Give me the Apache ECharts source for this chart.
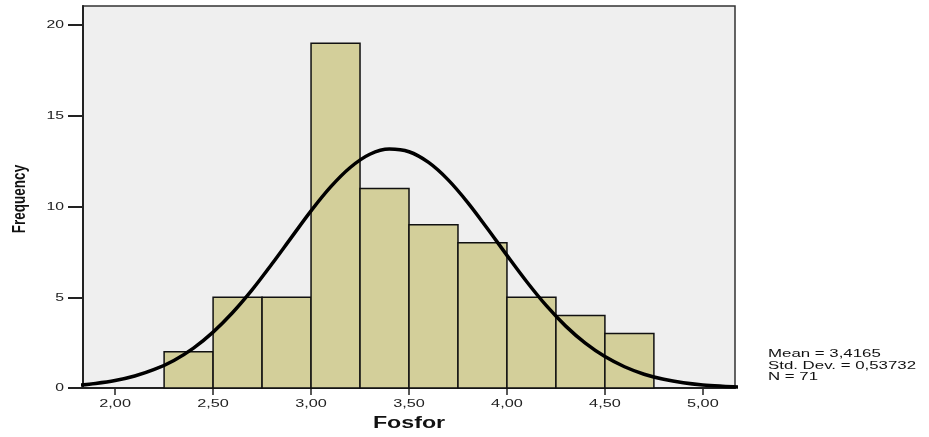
<!DOCTYPE html>
<html><head><meta charset="utf-8">
<script src="https://cdn.jsdelivr.net/npm/echarts@6/dist/echarts.min.js"></script>
<style>html,body{margin:0;padding:0;background:#fff}#c{width:929px;height:437px}</style>
</head><body><div id="c"></div>
<script>
var binStarts = [2.25, 2.50, 2.75, 3.00, 3.25, 3.50, 3.75, 4.00, 4.25, 4.50];
var binWidth = 0.25;
var counts = [2, 5, 5, 19, 11, 9, 8, 5, 4, 3];
var curveX = [1.8,1.9,2.0,2.1,2.2,2.3,2.4,2.5,2.6,2.7,2.8,2.9,3.0,3.1,3.2,3.3,3.4,3.5,3.6,3.7,3.8,3.9,4.0,4.1,4.2,4.3,4.4,4.5,4.6,4.7,4.8,4.9,5.0,5.1,5.2];
var curveY = [0.14,0.25,0.41,0.66,1.02,1.52,2.20,3.08,4.16,5.42,6.83,8.30,9.76,11.08,12.15,12.88,13.17,13.02,12.43,11.47,10.22,8.79,7.31,5.87,4.55,3.41,2.47,1.73,1.17,0.76,0.48,0.29,0.17,0.10,0.05];
var xTicks = [2.0, 2.5, 3.0, 3.5, 4.0, 4.5, 5.0];
var xTickLabels = ['2,00', '2,50', '3,00', '3,50', '4,00', '4,50', '5,00'];
var yTicks = [0, 5, 10, 15, 20];
var yTickLabels = ['0', '5', '10', '15', '20'];
var xTitle = 'Fosfor';
var yTitle = 'Frequency';
var statsLines = ['Mean = 3,4165', 'Std. Dev. = 0,53732', 'N = 71'];

var chart = echarts.init(document.getElementById('c'));
var font = 'Liberation Sans, Arial, sans-serif';
var barData = binStarts.map(function(s, i){ return [s, s + binWidth, counts[i]]; });
var lineData = curveX.map(function(x, i){ return [x, curveY[i]]; });

chart.setOption({
  animation: false,
  grid: {left: 83, top: 6, width: 652, height: 382, outerBoundsMode: 'none', containLabel: false,
    show: true, backgroundColor: '#efefef', borderColor: '#333', borderWidth: 1.5},
  xAxis: {
    type: 'value', min: 1.836, max: 5.164,
    axisLine: {show: true, onZero: false, lineStyle: {color: '#222', width: 2}},
    axisTick: {show: true, length: 7, lineStyle: {color: '#222', width: 1.5}, customValues: xTicks},
    axisLabel: {show: false},
    splitLine: {show: false}
  },
  yAxis: {
    type: 'value', min: 0, max: 21.05,
    axisLine: {show: true, lineStyle: {color: '#222', width: 2}},
    axisTick: {show: true, length: 15, lineStyle: {color: '#222', width: 2}, customValues: yTicks},
    axisLabel: {show: false},
    splitLine: {show: false}
  },
  series: [
    {
      type: 'custom',
      data: barData,
      encode: {x: [0, 1], y: 2},
      renderItem: function(params, api){
        var p0 = api.coord([api.value(0), api.value(2)]);
        var p1 = api.coord([api.value(1), 0]);
        return {type: 'rect', shape: {x: p0[0], y: p0[1], width: p1[0] - p0[0], height: p1[1] - p0[1]},
          style: {fill: '#d3cf9a', stroke: '#111', lineWidth: 1.5}};
      },
      z: 2
    },
    {
      type: 'line', data: lineData, smooth: 0.35, showSymbol: false, clip: true,
      lineStyle: {color: '#000', width: 3.5}, z: 3
    }
  ]
});

var g = [];
xTicks.forEach(function(v, i){
  var p = chart.convertToPixel({gridIndex: 0}, [v, 0]);
  g.push({type: 'text', x: p[0], y: p[1] + 16, scaleX: 1.55,
    style: {text: xTickLabels[i], font: '10.5px ' + font, fill: '#222', align: 'center', verticalAlign: 'middle'}});
});
yTicks.forEach(function(v, i){
  var p = chart.convertToPixel({gridIndex: 0}, [1.836, v]);
  g.push({type: 'text', x: p[0] - 19, y: p[1] + 0.5, scaleX: 1.5,
    style: {text: yTickLabels[i], font: '10.5px ' + font, fill: '#222', align: 'right', verticalAlign: 'middle'}});
});
var xc = chart.convertToPixel({gridIndex: 0}, [(1.836 + 5.164) / 2, 0]);
g.push({type: 'text', x: xc[0], y: 424, scaleX: 1.45,
  style: {text: xTitle, font: 'bold 16px ' + font, fill: '#111', align: 'center', verticalAlign: 'middle'}});
var yc = chart.convertToPixel({gridIndex: 0}, [1.836, 21.05 / 2]);
g.push({type: 'text', x: 20.5, y: yc[1] + 2, rotation: Math.PI / 2, scaleY: 1.3,
  style: {text: yTitle, font: 'bold 13.5px ' + font, fill: '#111', align: 'center', verticalAlign: 'middle'}});
statsLines.forEach(function(t, i){
  g.push({type: 'text', x: 768, y: 353.8 + i * 11.7, scaleX: 1.53,
    style: {text: t, font: '11px ' + font, fill: '#111', align: 'left', verticalAlign: 'middle'}});
});
chart.setOption({graphic: g});
</script></body></html>
